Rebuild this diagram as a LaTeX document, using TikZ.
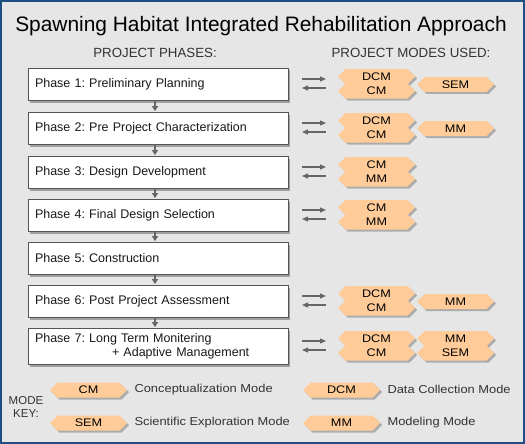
\documentclass[tikz,border=0pt]{standalone}
\usepackage{fontspec}
\setmainfont{Liberation Sans}
\newfontfamily\modefont[FakeStretch=1.15]{Liberation Sans}
\newfontfamily\keyfont[FakeStretch=1.12]{Liberation Sans}
\usetikzlibrary{shapes.symbols,shadows,arrows.meta}
\definecolor{bgc}{HTML}{E6E6E6}
\definecolor{framec}{HTML}{1F4E82}
\definecolor{peach}{HTML}{FFCC99}
\definecolor{txt}{HTML}{333333}
\definecolor{arr}{HTML}{666666}
\definecolor{boxline}{HTML}{555555}
\begin{document}
\frenchspacing
\begin{tikzpicture}[x=1pt,y=-1pt,
  phase/.style={draw=boxline, line width=0.8pt, fill=white, minimum width=260pt, minimum height=32pt,
    text width=246pt, align=left, inner sep=0pt, text=black!90, font=\fontsize{12.5}{14}\selectfont,
    drop shadow={shadow xshift=2pt, shadow yshift=-2.5pt, opacity=.3, fill=black}},
  mode/.style={shape=signal, signal to=west and east, signal pointer angle=90, fill=peach, draw=none,
    minimum width=77pt, minimum height=15pt, inner sep=0pt, text=black,
    font=\modefont\fontsize{11}{11}\selectfont,
    drop shadow={shadow xshift=2pt, shadow yshift=-2pt, opacity=.25, fill=black}},
  flow/.style={-{Triangle[length=5pt,width=6pt]}, draw=arr, line width=1.2pt, shorten >=0.5pt},
  side/.style={-{Triangle[length=6pt,width=5pt]}, draw=arr, line width=1.2pt},
  head/.style={text=txt, font=\fontsize{13.3}{15}\selectfont},
  keytxt/.style={anchor=west, text=txt, font=\keyfont\fontsize{11.5}{13}\selectfont}]
\useasboundingbox (0,0) rectangle (525,444);
\fill[framec] (0,0) rectangle (525,444);
\fill[bgc] (2,2) rectangle (523,442);

\node[font=\fontsize{20.9}{24}\selectfont, text=black] (title) at (261,26) {Spawning Habitat Integrated Rehabilitation Approach};
\node[head] (hphases) at (155,53) {PROJECT PHASES:};
\node[head] (hmodes) at (411,53) {PROJECT MODES USED:};

\node[phase] (p1) at (158,84) {Phase 1: Preliminary Planning};
\node[phase] (p2) at (158,128) {Phase 2: Pre Project Characterization};
\node[phase] (p3) at (158,172) {Phase 3: Design Development};
\node[phase] (p4) at (158,215) {Phase 4: Final Design Selection};
\node[phase] (p5) at (158,258) {Phase 5: Construction};
\node[phase] (p6) at (158,301) {Phase 6: Post Project Assessment};
\node[phase, minimum height=36pt] (p7) at (158,346) {Phase 7: Long Term Monitering\\\hspace*{77pt}+ Adaptive Management};

\foreach \a/\b in {p1/p2,p2/p3,p3/p4,p4/p5,p5/p6,p6/p7}
  \draw[flow] ([xshift=-3pt]\a.south) -- ([xshift=-3pt]\b.north);

\foreach \r/\c in {1/84,2/128,3/172,4/215,6/301,7/346}{
  \coordinate (ra\r) at (302,\c-5);
  \coordinate (rb\r) at (326,\c-5);
  \coordinate (la\r) at (326,\c+4);
  \coordinate (lb\r) at (302,\c+4);
  \draw[side] (ra\r) -- (rb\r);
  \draw[side] (la\r) -- (lb\r);
}

% row 1
\node[mode] (m1a) at (376.5,76.5) {DCM};
\node[mode] (m1b) at (376.5,91) {CM};
\node[mode] (m1c) at (455.5,84.5) {SEM};
% row 2
\node[mode] (m2a) at (376.5,120.5) {DCM};
\node[mode] (m2b) at (376.5,135) {CM};
\node[mode] (m2c) at (455.5,128.5) {MM};
% row 3
\node[mode] (m3a) at (376.5,164.5) {CM};
\node[mode] (m3b) at (376.5,179) {MM};
% row 4
\node[mode] (m4a) at (376.5,207.5) {CM};
\node[mode] (m4b) at (376.5,222) {MM};
% row 6
\node[mode] (m6a) at (376.5,293.5) {DCM};
\node[mode] (m6b) at (376.5,308) {CM};
\node[mode] (m6c) at (455.5,301.5) {MM};
% row 7
\node[mode] (m7a) at (376.5,338.5) {DCM};
\node[mode] (m7b) at (376.5,353) {CM};
\node[mode] (m7c) at (455.5,338.5) {MM};
\node[mode] (m7d) at (455.5,353) {SEM};

% key
\node[text=txt, font=\fontsize{11.5}{13}\selectfont, align=center] (mkey) at (26,407) {MODE\\KEY:};
\node[mode] (k1) at (88.5,390) {CM};
\node[keytxt] (k1t) at (131,390) {Conceptualization Mode};
\node[mode] (k2) at (341.5,390) {DCM};
\node[keytxt] (k2t) at (384,389) {Data Collection Mode};
\node[mode] (k3) at (88.5,423) {SEM};
\node[keytxt] (k3t) at (131,423) {Scientific Exploration Mode};
\node[mode] (k4) at (341.5,423) {MM};
\node[keytxt] (k4t) at (384,423) {Modeling Mode};
\end{tikzpicture}
\end{document}
